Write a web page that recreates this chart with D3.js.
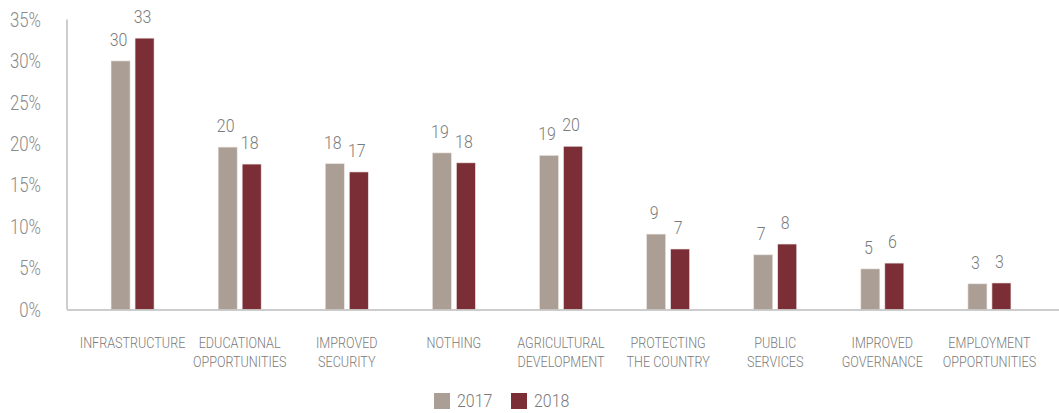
<!DOCTYPE html>
<html>
<head>
<meta charset="utf-8">
<script src="https://cdn.jsdelivr.net/npm/d3@7/dist/d3.min.js"></script>
<style>
  html, body { margin: 0; padding: 0; background: #fff; }
  svg { display: block; font-family: "Roboto", "Liberation Sans", sans-serif; font-weight: 300; }
</style>
</head>
<body>
<svg id="chart" width="1059" height="413"></svg>
<script>
// Categories (line breaks where the label wraps)
const categories = [
  ["INFRASTRUCTURE"],
  ["EDUCATIONAL", "OPPORTUNITIES"],
  ["IMPROVED", "SECURITY"],
  ["NOTHING"],
  ["AGRICULTURAL", "DEVELOPMENT"],
  ["PROTECTING", "THE COUNTRY"],
  ["PUBLIC", "SERVICES"],
  ["IMPROVED", "GOVERNANCE"],
  ["EMPLOYMENT", "OPPORTUNITIES"]
];
const seriesNames = ["2017", "2018"];
const values2017 = [30.0, 19.6, 17.6, 18.9, 18.6, 9.1, 6.6, 4.9, 3.1];
const values2018 = [32.75, 17.55, 16.6, 17.7, 19.7, 7.3, 7.9, 5.6, 3.2];
const yTicks = [0, 5, 10, 15, 20, 25, 30, 35];
const colors = ["#ab9f95", "#7c2e36"];

const svg = d3.select("#chart");
const axisLeft = 67, baseline = 309.5, plotTop = 19.5;
const SX = 0.84; // horizontal squeeze for a condensed look

const x = d3.scaleBand()
  .domain(d3.range(categories.length))
  .range([79, 1043]);
const y = d3.scaleLinear().domain([0, 35]).range([baseline, plotTop]);

const barW = 19, gap = 5;
const sub = d3.scaleOrdinal().domain([0, 1]).range([-(gap / 2 + barW), gap / 2]);

const place = (px, py) => `translate(${px},${py}) scale(${SX},1)`;

// y tick labels
svg.append("g").selectAll("text")
  .data(yTicks).join("text")
  .attr("transform", d => place(41, y(d)))
  .attr("dy", "0.36em")
  .attr("text-anchor", "end")
  .attr("fill", "#8a8a8a")
  .attr("font-size", 20)
  .text(d => d + "%");

// vertical axis line
svg.append("line")
  .attr("x1", axisLeft).attr("x2", axisLeft)
  .attr("y1", plotTop).attr("y2", baseline)
  .attr("stroke", "#bdbdbd").attr("stroke-width", 1.5);

const series = [values2017, values2018];

const groups = svg.append("g").selectAll("g")
  .data(series).join("g");

groups.selectAll("rect")
  .data((vals, si) => vals.map((v, i) => ({ v, i, si })))
  .join("rect")
  .attr("x", d => x(d.i) + x.bandwidth() / 2 + sub(d.si))
  .attr("y", d => y(d.v))
  .attr("width", barW)
  .attr("height", d => baseline - y(d.v))
  .attr("fill", d => colors[d.si])
  .attr("stroke", "#e9e4e1")
  .attr("stroke-width", 0.6);

groups.selectAll("text")
  .data((vals, si) => vals.map((v, i) => ({ v, i, si })))
  .join("text")
  .attr("transform", d => place(x(d.i) + x.bandwidth() / 2 + sub(d.si) + barW / 2 - 2, y(d.v) - 15))
  .attr("text-anchor", "middle")
  .attr("fill", "#7a7a7a")
  .attr("font-size", 19)
  .text(d => Math.round(d.v));

// baseline
svg.append("line")
  .attr("x1", axisLeft).attr("x2", 1059)
  .attr("y1", baseline + 0.5).attr("y2", baseline + 0.5)
  .attr("stroke", "#bdbdbd").attr("stroke-width", 1.5);

// category labels
const cat = svg.append("g").selectAll("text")
  .data(categories).join("text")
  .attr("transform", (d, i) => place(x(i) + x.bandwidth() / 2, 348))
  .attr("text-anchor", "middle")
  .attr("fill", "#7a7a7a")
  .attr("font-size", 15);
cat.selectAll("tspan")
  .data(d => d).join("tspan")
  .attr("x", 0)
  .attr("dy", (d, j) => j === 0 ? 0 : 19.5)
  .text(d => d);

// legend
const legend = svg.append("g");
const legendX = [434, 511];
seriesNames.forEach((name, i) => {
  legend.append("rect")
    .attr("x", legendX[i]).attr("y", 393)
    .attr("width", 16).attr("height", 16)
    .attr("fill", colors[i]);
  legend.append("text")
    .attr("transform", place(legendX[i] + 23, 400.5))
    .attr("dy", "0.36em")
    .attr("fill", "#7a7a7a")
    .attr("font-size", 19)
    .text(name);
});
</script>
</body>
</html>
